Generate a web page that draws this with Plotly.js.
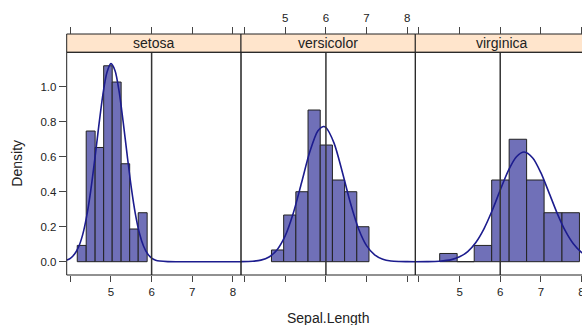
<!DOCTYPE html>
<html>
<head>
<meta charset="utf-8">
<script src="https://cdn.plot.ly/plotly-3.0.1.min.js"></script>
<style>
html,body{margin:0;padding:0;overflow:hidden;background:#fff;}
#chart{width:600px;height:325px;}
</style>
</head>
<body>
<div id="chart"></div>
<script>
// ---- data ----
const species = ["setosa", "versicolor", "virginica"];

const setosaBreaks = [4.17, 4.39, 4.61, 4.82, 5.03, 5.25, 5.46, 5.67, 5.89];
const setosaDensity = [0.093, 0.747, 0.653, 1.12, 1.027, 0.56, 0.187, 0.28];

const versicolorBreaks = [4.66, 4.96, 5.26, 5.56, 5.86, 6.16, 6.46, 6.76, 7.06];
const versicolorDensity = [0.067, 0.267, 0.4, 0.867, 0.667, 0.467, 0.4, 0.2];

const virginicaBreaks = [4.51, 4.94, 5.36, 5.79, 6.22, 6.65, 7.08, 7.52, 7.95];
const virginicaDensity = [0.047, 0, 0.093, 0.467, 0.7, 0.467, 0.28, 0.28];

const setosaCurveX = [3.9, 4.0, 4.1, 4.2, 4.3, 4.4, 4.5, 4.6, 4.7, 4.8, 4.9, 5.0, 5.1, 5.2, 5.3, 5.4, 5.5, 5.6, 5.7, 5.8, 5.9, 6.0, 6.1, 6.2, 6.4, 6.7, 7.2, 8.2];
const setosaCurveY = [0.008, 0.019, 0.042, 0.083, 0.152, 0.258, 0.404, 0.583, 0.776, 0.954, 1.082, 1.132, 1.092, 0.973, 0.799, 0.606, 0.424, 0.274, 0.163, 0.090, 0.045, 0.021, 0.009, 0.004, 0.0005, 0, 0, 0];

const versicolorCurveX = [3.9, 4.2, 4.4, 4.6, 4.8, 5.0, 5.2, 5.4, 5.6, 5.8, 5.94, 6.0, 6.2, 6.4, 6.6, 6.8, 7.0, 7.2, 7.4, 7.6, 7.8, 8.0, 8.2];
const versicolorCurveY = [0.0003, 0.003, 0.009, 0.027, 0.069, 0.149, 0.280, 0.451, 0.625, 0.747, 0.773, 0.767, 0.678, 0.516, 0.338, 0.190, 0.092, 0.039, 0.014, 0.004, 0.001, 0.0003, 0.0001];

const virginicaCurveX = [3.9, 4.2, 4.5, 4.8, 5.0, 5.2, 5.4, 5.6, 5.8, 6.0, 6.2, 6.4, 6.59, 6.8, 7.0, 7.2, 7.4, 7.6, 7.8, 8.0, 8.2];
const virginicaCurveY = [0.0001, 0.0005, 0.003, 0.012, 0.028, 0.058, 0.110, 0.188, 0.291, 0.409, 0.521, 0.600, 0.627, 0.593, 0.509, 0.395, 0.278, 0.177, 0.102, 0.053, 0.025];

const refLineX = 6;
const xTicks = [4, 5, 6, 7, 8];
const xTickLabels = ["", "5", "6", "7", "8"];
const yTicks = [0, 0.2, 0.4, 0.6, 0.8, 1.0];
const yTickLabels = ["0.0", "0.2", "0.4", "0.6", "0.8", "1.0"];
const xTitle = "Sepal.Length";
const yTitle = "Density";

// ---- styling / layout ----
const W = 600, H = 325;
const FONT = "Liberation Sans, Arial, Helvetica, sans-serif";
const barFill = "#7070b8";
const curveCol = "#1c1c8e";
const xRange = [3.91, 8.2];
const yRange = [-0.076, 1.197];
const panelPx = [[66.7, 241], [241, 415.3], [415.3, 589.6]];
const yDom = [(H - 275) / H, (H - 52.3) / H];
const stripTop = (H - 34) / H;

const breaks = [setosaBreaks, versicolorBreaks, virginicaBreaks];
const dens = [setosaDensity, versicolorDensity, virginicaDensity];
const curvesX = [setosaCurveX, versicolorCurveX, virginicaCurveX];
const curvesY = [setosaCurveY, versicolorCurveY, virginicaCurveY];

const traces = [];
const layout = {
  width: W, height: H,
  margin: {l: 0, r: 0, t: 0, b: 0},
  paper_bgcolor: "#fff", plot_bgcolor: "#fff",
  showlegend: false,
  font: {family: FONT, size: 11.5, color: "#222"},
  bargap: 0,
  shapes: [], annotations: []
};

layout.yaxis = {
  domain: yDom, range: yRange, anchor: "x",
  tickmode: "array", tickvals: yTicks, ticktext: yTickLabels,
  ticks: "outside", ticklen: 7, tickwidth: 1, tickcolor: "#444",
  showgrid: false, zeroline: false, showline: false,
  tickfont: {family: FONT, size: 11.5, color: "#222"}, fixedrange: true
};

for (let i = 0; i < 3; i++) {
  const xs = i === 0 ? "x" : "x" + (i + 1);
  const xk = i === 0 ? "xaxis" : "xaxis" + (i + 1);
  const topIdx = i + 4;
  const dom = [panelPx[i][0] / W, panelPx[i][1] / W];
  const b = breaks[i];
  const centers = [], widths = [];
  for (let k = 0; k < b.length - 1; k++) {
    centers.push((b[k] + b[k + 1]) / 2);
    widths.push(b[k + 1] - b[k]);
  }
  traces.push({
    type: "bar", x: centers, y: dens[i], width: widths,
    xaxis: xs, yaxis: "y",
    marker: {color: barFill, line: {color: "#222", width: 1}},
    hoverinfo: "skip"
  });
  traces.push({
    type: "scatter", mode: "lines", x: curvesX[i], y: curvesY[i],
    xaxis: xs, yaxis: "y",
    line: {color: curveCol, width: 1.6, shape: "spline", smoothing: 0.8},
    hoverinfo: "skip"
  });
  // dummy for top axis
  traces.push({type: "scatter", x: [], y: [], xaxis: "x" + topIdx, yaxis: "y", hoverinfo: "skip"});

  layout[xk] = {
    domain: dom, range: xRange, anchor: "y",
    tickmode: "array", tickvals: xTicks,
    ticktext: i === 1 ? ["", "", "", "", ""] : xTickLabels,
    ticks: "outside", ticklen: 6, tickwidth: 1, tickcolor: "#444",
    showgrid: false, zeroline: false, showline: false,
    tickfont: {family: FONT, size: 11.5, color: "#222"}, fixedrange: true
  };
  layout["xaxis" + topIdx] = {
    overlaying: xs, side: "top", anchor: "free", position: stripTop,
    range: xRange, tickmode: "array", tickvals: xTicks,
    ticktext: i === 1 ? xTickLabels : ["", "", "", "", ""],
    ticks: "outside", ticklen: 7, tickwidth: 1, tickcolor: "#444",
    showgrid: false, zeroline: false, showline: false,
    tickfont: {family: FONT, size: 11.5, color: "#222"}, fixedrange: true
  };
  // strip
  layout.shapes.push({
    type: "rect", xref: "paper", yref: "paper",
    x0: dom[0], x1: dom[1], y0: yDom[1], y1: stripTop,
    fillcolor: "#ffe5cc", line: {color: "#222", width: 1}, layer: "below"
  });
  layout.annotations.push({
    xref: "paper", yref: "paper", x: (dom[0] + dom[1]) / 2, y: (yDom[1] + stripTop) / 2,
    text: species[i], showarrow: false, xanchor: "center", yanchor: "middle",
    font: {family: FONT, size: 14, color: "#222"}
  });
  // reference line
  layout.shapes.push({
    type: "line", xref: xs, yref: "paper", x0: refLineX, x1: refLineX,
    y0: yDom[0], y1: yDom[1], line: {color: "#333", width: 1.5}, layer: "above"
  });
  // panel border
  layout.shapes.push({
    type: "rect", xref: "paper", yref: "paper",
    x0: dom[0], x1: dom[1], y0: yDom[0], y1: yDom[1],
    line: {color: "#222", width: 1}, fillcolor: "rgba(0,0,0,0)", layer: "above"
  });
}

layout.annotations.push({
  xref: "paper", yref: "paper", x: 328 / W, y: (H - 318) / H,
  text: xTitle, showarrow: false, xanchor: "center", yanchor: "middle",
  font: {family: FONT, size: 14, color: "#222"}
});
layout.annotations.push({
  xref: "paper", yref: "paper", x: 17 / W, y: (yDom[0] + yDom[1]) / 2,
  text: yTitle, showarrow: false, xanchor: "center", yanchor: "middle", textangle: -90,
  font: {family: FONT, size: 14, color: "#222"}
});

Plotly.newPlot("chart", traces, layout, {displayModeBar: false, staticPlot: true});
</script>
</body>
</html>
